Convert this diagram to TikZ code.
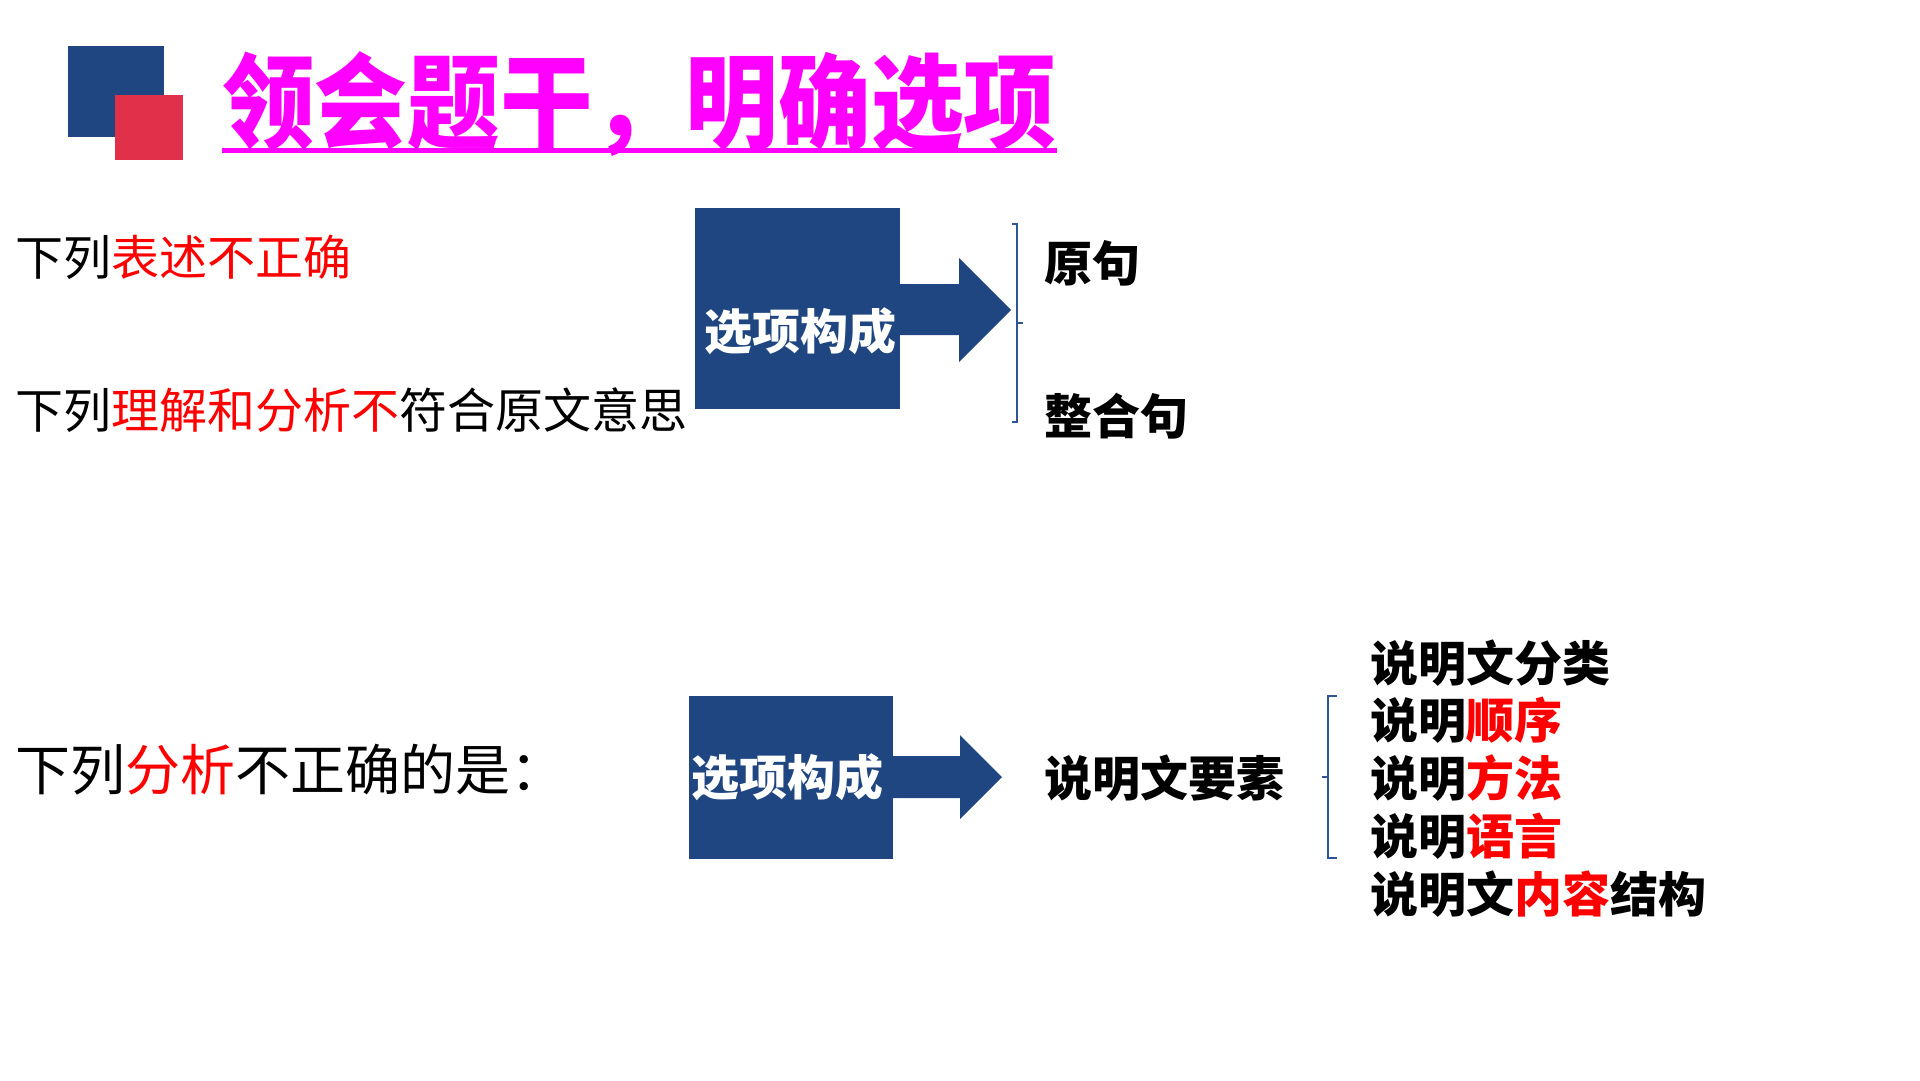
\documentclass[tikz,border=0pt]{standalone}
\usepackage{fontspec}
\newfontfamily\hei{Noto Sans CJK SC}
\newfontfamily\song{Noto Sans CJK SC}
\newfontfamily\titlefont{Noto Sans CJK SC}[FakeStretch=0.9]
\definecolor{boxblue}{HTML}{1F4681}
\definecolor{sqred}{HTML}{E0304A}
\definecolor{brk}{HTML}{2F5597}
\definecolor{tred}{HTML}{FF0000}
\definecolor{mag}{HTML}{FF00FF}
\tikzset{
  boxnode/.style={fill=boxblue, draw=none, inner sep=0pt},
  whitelab/.style={text=white, font=\hei\bfseries\fontsize{48}{50}\selectfont, inner sep=0pt},
  boldlab/.style={text=black, font=\hei\bfseries\fontsize{48}{50}\selectfont, inner sep=0pt, anchor=west},
  songlab/.style={text=black, font=\song\fontsize{48}{50}\selectfont, inner sep=0pt, anchor=west},
  brace/.style={draw=brk, line width=1.3pt},
  blockarrow/.style={fill=boxblue, draw=none}
}
\begin{document}
\begin{tikzpicture}[x=1pt,y=-1pt]
\useasboundingbox (0,0) rectangle (1920,1080);
% decorative squares
\fill[boxblue] (68,46) rectangle (164,137);
\fill[sqred] (115,95) rectangle (183,160);
% title
\node[anchor=west, inner sep=0pt, text=mag, font=\titlefont\bfseries\fontsize{103}{108}\selectfont] (title) at (222,104) {领会题干，明确选项};
\draw[mag, line width=5pt] ([yshift=6pt]title.south west) -- ([yshift=6pt]title.south east);

% section 1
\node[songlab] (q1) at (15,257) {下列{\color{tred}表述不正确}};
\node[songlab] (q2) at (15,410) {下列{\color{tred}理解和分析不}符合原文意思};
\node[boxnode, minimum width=205pt, minimum height=201pt] (box1) at (797.5,308.5) {};
\fill[blockarrow] (900,284) -- (959,284) -- (959,258) -- (1011,310) -- (959,362) -- (959,335) -- (900,335) -- cycle;
\node[whitelab] (lab1) at (800,331) {选项构成};
\draw[brace] (1012,224) -- (1017,224) -- (1017,422) -- (1012,422);
\draw[brace] (1017,323) -- (1023,323);
\node[boldlab] (yj) at (1044,263) {原句};
\node[boldlab] (zhj) at (1044,416) {整合句};

% section 2
\node[text=black, font=\song\fontsize{55}{57}\selectfont, inner sep=0pt, anchor=west] (q3) at (15,770) {下列{\color{tred}分析}不正确的是：};
\node[boxnode, minimum width=204pt, minimum height=163pt] (box2) at (791,777) {};
\fill[blockarrow] (893,756) -- (960,756) -- (960,735) -- (1002,777) -- (960,819) -- (960,798) -- (893,798) -- cycle;
\node[whitelab] (lab2) at (787,777) {选项构成};
\node[boldlab] (ys) at (1044,778) {说明文要素};
\draw[brace] (1337,696) -- (1328,696) -- (1328,858) -- (1337,858);
\draw[brace] (1328,777) -- (1322,777);
\node[boldlab] (l1) at (1370,663) {说明文分类};
\node[boldlab] (l2) at (1370,720) {说明{\color{tred}顺序}};
\node[boldlab] (l3) at (1370,778) {说明{\color{tred}方法}};
\node[boldlab] (l4) at (1370,836) {说明{\color{tred}语言}};
\node[boldlab] (l5) at (1370,894) {说明文{\color{tred}内容}结构};
\end{tikzpicture}
\end{document}
